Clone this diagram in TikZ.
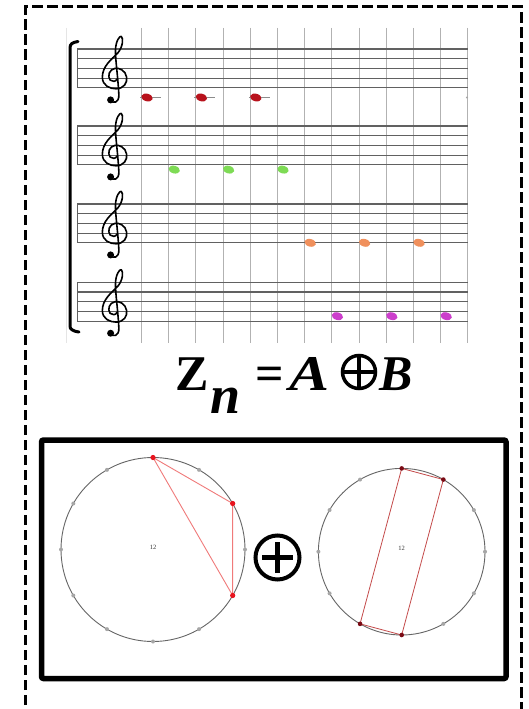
\documentclass[tikz,border=0pt]{standalone}
\usepackage{fontspec}
\setmainfont{Liberation Serif}
\definecolor{nred}{HTML}{B8121C}
\definecolor{ngreen}{HTML}{7EDB55}
\definecolor{norange}{HTML}{F0905C}
\definecolor{nmag}{HTML}{CC3FCC}
\definecolor{pred}{HTML}{E8141E}
\definecolor{lred}{HTML}{F07A7A}
\definecolor{dred}{HTML}{7A0A14}
\definecolor{mred}{HTML}{C44A4A}
\tikzset{
  staffline/.style={draw=black!62, line width=1.1pt},
  gridline/.style={draw=black!30, line width=0.9pt},
  ringnode/.style={circle, draw=black!60, line width=0.9pt, inner sep=0, outer sep=0},
  formula/.style={anchor=base west, inner sep=0, font=\fontsize{50}{50}\selectfont\bfseries},
  formulait/.style={formula, font=\fontsize{50}{50}\selectfont\bfseries\itshape},
  gclef/.pic={
    \begin{scope}[x=9.7pt,y=9.7pt]
      \draw[line width=1.6pt, line cap=round, line join=round]
        (-0.35,-2.25) .. controls (-0.1,-2.7) and (0.55,-2.55) .. (0.5,-1.7)
        .. controls (0.4,0.2) and (0.15,1.8) .. (0.15,2.8)
        .. controls (0.15,3.8) and (0.6,4.4) .. (0.75,4.3)
        .. controls (1.0,4.1) and (0.9,3.2) .. (0.4,2.6)
        .. controls (-0.3,1.9) and (-1.2,1.2) .. (-1.2,0.1)
        .. controls (-1.2,-0.8) and (-0.4,-1.1) .. (0.2,-1.1)
        .. controls (1.0,-1.1) and (1.4,-0.5) .. (1.3,0.1)
        .. controls (1.2,0.8) and (0.5,1.1) .. (0.1,1.0)
        .. controls (-0.5,0.9) and (-0.7,0.2) .. (-0.4,-0.2)
        .. controls (-0.2,-0.4) and (0.2,-0.4) .. (0.3,-0.1);
      \fill (-0.35,-2.25) circle (0.36);
    \end{scope}
  }
}
\begin{document}
\begin{tikzpicture}[x=1pt,y=-1pt]
\useasboundingbox (0,0) rectangle (528,709);
\fill[white] (0,0) rectangle (528,709);

% outer dashed frame (open at the bottom, runs off the page)
\draw[line width=3.5pt, dash pattern=on 10.5pt off 4.5pt] (25.7,720) -- (25.7,6.7) -- (521.7,6.7) -- (521.7,720);

% score: vertical grid lines
\draw[draw=black!10, line width=0.8pt] (66,28) -- (66,343);
\foreach \i in {0,...,12}
  \draw[gridline] (141.5+27.2*\i,28) -- (141.5+27.2*\i,343);

% staves
\foreach \t in {49,126,204,282.3} {
  \foreach \l in {0,...,4}
    \draw[staffline] (77,\t+9.7*\l) -- (468,\t+9.7*\l);
  \draw[staffline] (77.5,\t) -- (77.5,\t+38.8);
  \pic at (114,\t+29.1) {gclef};
}

% bracket
\draw[line width=3pt, line cap=round] (78,41.5) .. controls (72,42.5) and (70,44) .. (70,48) -- (70,326) .. controls (70,329) and (72,331) .. (79,332);

% notes
\foreach \j in {0,2,4} {
  \draw[draw=black!45, line width=0.9pt] (140+27.2*\j,97.5) -- (161+27.2*\j,97.5);
  \fill[nred, rotate around={-15:(147+27.2*\j,97.5)}] (147+27.2*\j,97.5) ellipse (5.8 and 3.8);
}
\fill[black!35] (467,97.5) circle (1.2);
\foreach \j in {1,3,5}
  \fill[ngreen, rotate around={-15:(147+27.2*\j,169.6)}] (147+27.2*\j,169.6) ellipse (5.8 and 3.8);
\foreach \j in {6,8,10}
  \fill[norange, rotate around={-15:(147+27.2*\j,242.8)}] (147+27.2*\j,242.8) ellipse (5.8 and 3.8);
\foreach \j in {7,9,11}
  \fill[nmag, rotate around={-15:(147+27.2*\j,316.2)}] (147+27.2*\j,316.2) ellipse (5.8 and 3.8);

% formula
\node[formula] (fZ) at (175,390) {Z};
\node[formulait, font=\fontsize{54}{54}\selectfont\bfseries\itshape] (fn) at (210,413) {n};
\node[formula] (feq) at (255,390) {=};
\node[formulait] (fA) at (289,390) {\scalebox{1.2}[1]{A}};
\node[circle, draw, line width=3.5pt, minimum size=33pt, inner sep=0] (fop) at (359,372) {};
\draw[line width=3.5pt] ([xshift=-16pt]fop.center) -- ([xshift=16pt]fop.center);
\draw[line width=3.5pt] ([yshift=-16pt]fop.center) -- ([yshift=16pt]fop.center);
\node[formulait] (fB) at (379,390) {B};

% solid frame
\draw[line width=5.5pt, rounded corners=2pt] (41.5,440) rectangle (506,678.5);

% left clock
\node[ringnode, minimum size=184pt] (LC) at (153,549.5) {};
\node[font=\fontsize{6.5}{6.5}\selectfont, text=black!80, inner sep=0] (L12) at (153,547) {12};
\foreach \a in {60,0,-60,-90,-120,-150,180,150,120}
  \fill[black!35] (LC.\a) circle (2);
\draw[lred, line width=0.9pt, line join=round] (LC.90) -- (LC.30) -- (LC.-30) -- cycle;
\foreach \a in {90,30,-30}
  \fill[pred] (LC.\a) circle (2.6);

% big oplus between clocks
\node[circle, draw, line width=4pt, minimum size=44pt, inner sep=0] (op) at (277.5,557.5) {};
\draw[line width=4.5pt] ([xshift=-15.5pt]op.center) -- ([xshift=15.5pt]op.center);
\draw[line width=4.5pt] ([yshift=-15.5pt]op.center) -- ([yshift=15.5pt]op.center);

% right clock
\node[ringnode, minimum size=166.6pt] (RC) at (401.7,551.7) {};
\node[font=\fontsize{6.5}{6.5}\selectfont, text=black!80, inner sep=0] (R12) at (401.7,548) {12};
\foreach \a in {30,0,-30,-60,-150,180,150,120}
  \fill[black!35] (RC.\a) circle (2);
\draw[mred, line width=0.8pt] (RC.90) -- (RC.-120);
\draw[mred, line width=0.8pt] (RC.60) -- (RC.-90);
\draw[mred, line width=0.8pt] (RC.90) -- (RC.60);
\draw[mred, line width=0.8pt] (RC.-90) -- (RC.-120);
\foreach \a in {90,60,-90,-120}
  \fill[dred] (RC.\a) circle (2.3);
\end{tikzpicture}
\end{document}
